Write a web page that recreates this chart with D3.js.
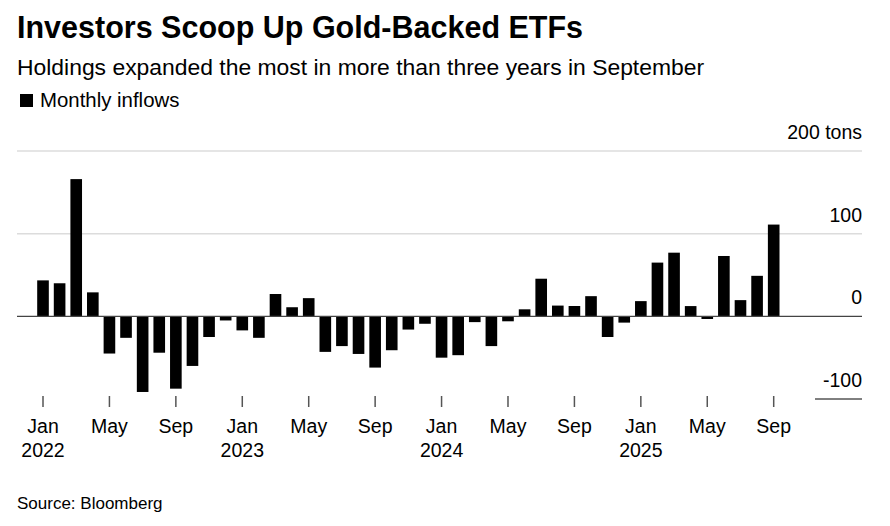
<!DOCTYPE html>
<html>
<head>
<meta charset="utf-8">
<script src="https://cdn.jsdelivr.net/npm/d3@7"></script>
<style>
	body { margin: 0; background: #fff; }
	text { font-family: "Liberation Sans", Arial, sans-serif; fill: #000; }
</style>
</head>
<body>
<div id="chart"></div>
<script>

///////////////////////////////////////////////////////////////////////////
//////////////////////////////// Data /////////////////////////////////////
///////////////////////////////////////////////////////////////////////////

//Months from Jan 2022 to Sep 2025
var months = d3.timeMonths(new Date(2022, 0, 1), new Date(2025, 9, 1));

//Monthly inflows (tons)
var inflows2022 = [43.5, 40, 166, 29, -45, -26, -91.5, -44, -87.5, -60, -25, -5];
var inflows2023 = [-17, -26, 27, 11, 22, -43, -36, -45.5, -62, -41, -16, -9];
var inflows2024 = [-50, -47, -7, -36, -6, 8.5, 45.5, 13, 12.5, 24.4, -25, -7.6];
var inflows2025 = [18.4, 65, 77, 12.4, -3.2, 73, 19.6, 49, 111];
var inflows = inflows2022.concat(inflows2023, inflows2024, inflows2025);

var yTicks = [-100, 0, 100, 200];
var tickMonths = ["Jan", "May", "Sep"];

///////////////////////////////////////////////////////////////////////////
//////////////////////////// Set up the svg ///////////////////////////////
///////////////////////////////////////////////////////////////////////////

var width = 890,
	height = 526;

var svg = d3.select("#chart").append("svg")
	.attr("width", width)
	.attr("height", height);

var data = months.map(function(m, i) { return { date: m, value: inflows[i] }; });

var gridLeft = 17,
	gridRight = 862;

var x = d3.scaleBand()
	.domain(data.map(function(d, i) { return i; }))
	.range([34.7, 782])
	.paddingInner(0.3)
	.paddingOuter(0.15);

var y = d3.scaleLinear()
	.domain([-100, 200])
	.range([399, 151]);

///////////////////////////////////////////////////////////////////////////
//////////////////////////////// Titles ///////////////////////////////////
///////////////////////////////////////////////////////////////////////////

svg.append("text")
	.attr("x", 17)
	.attr("y", 38)
	.style("font-size", "30.5px")
	.style("font-weight", "bold")
	.text("Investors Scoop Up Gold-Backed ETFs");

svg.append("text")
	.attr("x", 17)
	.attr("y", 75)
	.style("font-size", "22.9px")
	.text("Holdings expanded the most in more than three years in September");

svg.append("rect")
	.attr("x", 20)
	.attr("y", 94)
	.attr("width", 13)
	.attr("height", 13)
	.style("fill", "#000");

svg.append("text")
	.attr("x", 40)
	.attr("y", 107)
	.style("font-size", "20.4px")
	.text("Monthly inflows");

///////////////////////////////////////////////////////////////////////////
//////////////////////////////// Grid /////////////////////////////////////
///////////////////////////////////////////////////////////////////////////

var grid = svg.append("g").attr("class", "grid");

grid.selectAll(".gridline")
	.data(yTicks.filter(function(d) { return d > 0; }))
	.enter().append("line")
	.attr("class", "gridline")
	.attr("x1", gridLeft)
	.attr("x2", gridRight)
	.attr("y1", function(d) { return y(d); })
	.attr("y2", function(d) { return y(d); })
	.style("stroke", "#dcdcdc")
	.style("stroke-width", 1.5);

//Short line under the lowest label
grid.append("line")
	.attr("x1", 815)
	.attr("x2", gridRight)
	.attr("y1", y(-100))
	.attr("y2", y(-100))
	.style("stroke", "#000")
	.style("stroke-width", 1);

grid.selectAll(".ylabel")
	.data(yTicks)
	.enter().append("text")
	.attr("class", "ylabel")
	.attr("x", gridRight)
	.attr("y", function(d) { return y(d) - 12; })
	.attr("text-anchor", "end")
	.style("font-size", "19.5px")
	.text(function(d) { return d === 200 ? "200 tons" : d; });

///////////////////////////////////////////////////////////////////////////
//////////////////////////////// Bars /////////////////////////////////////
///////////////////////////////////////////////////////////////////////////

svg.append("g").attr("class", "bars")
	.selectAll("rect")
	.data(data)
	.enter().append("rect")
	.attr("x", function(d, i) { return x(i); })
	.attr("width", x.bandwidth())
	.attr("y", function(d) { return y(Math.max(0, d.value)); })
	.attr("height", function(d) { return Math.abs(y(d.value) - y(0)); })
	.style("fill", "#000");

//Zero line
svg.append("line")
	.attr("x1", gridLeft)
	.attr("x2", gridRight)
	.attr("y1", y(0))
	.attr("y2", y(0))
	.style("stroke", "#444")
	.style("stroke-width", 1.2);

///////////////////////////////////////////////////////////////////////////
//////////////////////////////// X axis ///////////////////////////////////
///////////////////////////////////////////////////////////////////////////

var fmtMonth = d3.timeFormat("%b"),
	fmtYear = d3.timeFormat("%Y");

var ticks = data.map(function(d, i) { return { date: d.date, i: i }; })
	.filter(function(d) { return tickMonths.indexOf(fmtMonth(d.date)) > -1; });

var xAxis = svg.append("g").attr("class", "x-axis");

var tick = xAxis.selectAll(".tick")
	.data(ticks)
	.enter().append("g")
	.attr("class", "tick")
	.attr("transform", function(d) { return "translate(" + (x(d.i) + x.bandwidth() / 2) + ",0)"; });

tick.append("line")
	.attr("y1", 396)
	.attr("y2", 407)
	.style("stroke", "#555")
	.style("stroke-width", 1.5);

tick.append("text")
	.attr("y", 433)
	.attr("text-anchor", "middle")
	.style("font-size", "19.5px")
	.text(function(d) { return fmtMonth(d.date); });

tick.filter(function(d) { return fmtMonth(d.date) === "Jan"; })
	.append("text")
	.attr("y", 457)
	.attr("text-anchor", "middle")
	.style("font-size", "19.5px")
	.text(function(d) { return fmtYear(d.date); });

svg.append("text")
	.attr("x", 17)
	.attr("y", 509)
	.style("font-size", "17px")
	.text("Source: Bloomberg");

</script>
</body>
</html>
